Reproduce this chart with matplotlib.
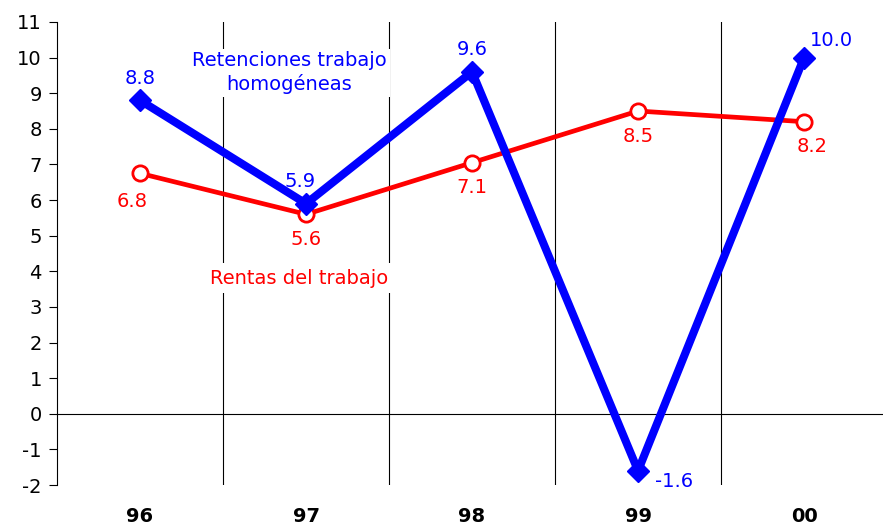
import matplotlib
matplotlib.use("Agg")
import matplotlib.pyplot as plt

# ── data ─────────────────────────────────────────
years = ["96", "97", "98", "99", "00"]
retenciones = [8.8, 5.9, 9.6, -1.6, 10.0]
rentas = [6.75, 5.6, 7.05, 8.5, 8.2]
ret_labels = ["8.8", "5.9", "9.6", "-1.6", "10.0"]
ren_labels = ["6.8", "5.6", "7.1", "8.5", "8.2"]
yticks = list(range(-2, 12))

BLUE = "#0000ff"
RED = "#ff0000"
FS = 14

plt.rcParams["font.family"] = ["DejaVu Sans"]
plt.rcParams["axes.unicode_minus"] = False

fig = plt.figure(figsize=(8.83, 5.28), dpi=100)
ax = fig.add_axes([0.0646, 0.0814, 0.94, 0.877])
x = list(range(len(years)))

# grid: category separators + zero line
for b in [0.5, 1.5, 2.5, 3.5]:
    ax.axvline(b, color="black", lw=0.8, zorder=1)
ax.axhline(0, color="black", lw=0.8, zorder=1)

ax.plot(x, rentas, color=RED, lw=3.4, marker="o", ms=11,
        mfc="white", mec=RED, mew=2, zorder=3)
ax.plot(x, retenciones, color=BLUE, lw=5.8, marker="D", ms=11,
        mfc=BLUE, mec=BLUE, zorder=4)

# value labels (offsets in points)
ret_off = [(0, 16), (-4, 16), (0, 16), (26, -8), (20, 12)]
ren_off = [(-6, -20), (0, -18), (0, -18), (0, -18), (6, -18)]
for i in x:
    ax.annotate(ret_labels[i], (x[i], retenciones[i]), xytext=ret_off[i],
                textcoords="offset points", ha="center", va="center",
                color=BLUE, fontsize=FS, zorder=5)
    ax.annotate(ren_labels[i], (x[i], rentas[i]), xytext=ren_off[i],
                textcoords="offset points", ha="center", va="center",
                color=RED, fontsize=FS, zorder=5)

# series names with white box
ax.text(0.9, 9.57, "Retenciones trabajo\nhomogéneas", ha="center", va="center",
        color=BLUE, fontsize=FS, linespacing=1.25, zorder=2,
        bbox=dict(facecolor="white", edgecolor="none", pad=2))
ax.text(0.96, 3.81, "Rentas del trabajo", ha="center", va="center",
        color=RED, fontsize=FS, zorder=2,
        bbox=dict(facecolor="white", edgecolor="none", pad=4))

ax.set_xlim(-0.5, 4.5)
ax.set_ylim(-2, 11)
ax.set_yticks(yticks)
ax.set_xticks(x)
ax.set_xticklabels(years, fontweight="bold", fontsize=FS)
ax.tick_params(axis="x", length=0, pad=16)
ax.tick_params(axis="y", length=6, width=0.8, pad=5, labelsize=FS, direction="out")

for s in ["top", "right", "bottom"]:
    ax.spines[s].set_visible(False)
ax.spines["left"].set_linewidth(0.8)

fig.savefig("out.png", dpi=100)
